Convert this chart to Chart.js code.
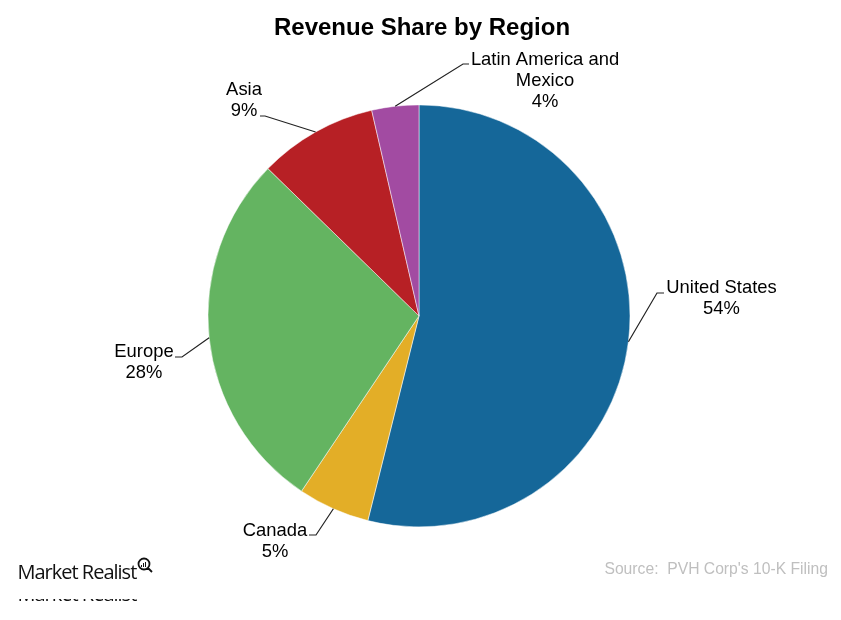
<!DOCTYPE html>
<html>
<head>
<meta charset="utf-8">
<title>Revenue Share by Region</title>
<script src="https://cdn.jsdelivr.net/npm/chart.js@4/dist/chart.umd.min.js"></script>
<style>
    html, body { margin: 0; padding: 0; background: #fff; }
    canvas { display: block; }
</style>
</head>
<body>
<canvas id="revenue-share-chart" width="841" height="620"></canvas>
<script>
    // values, clockwise from 12 o'clock
    var regions = ['United States', 'Canada', 'Europe', 'Asia', 'Latin America and\nMexico'];
    var shares = [53.9, 5.5, 27.9, 9.1, 3.6];
    var shareLabels = ['54%', '5%', '28%', '9%', '4%'];
    var sliceColors = ['#156799', '#E3AE27', '#64B461', '#B72025', '#A24BA2'];

    var labelFont = '18.4px "Liberation Sans", Arial, sans-serif';

    // where the callouts sit: text centre, first line y, leader elbow, leader end
    var callouts = [
        { x: 721.5, y: 288, elbowX: 657, elbowY: 293, endX: 664 },
        { x: 275, y: 531, elbowX: 316, elbowY: 535, endX: 309 },
        { x: 144, y: 352, elbowX: 182, elbowY: 357, endX: 175 },
        { x: 244, y: 90, elbowX: 265, elbowY: 116, endX: 260 },
        { x: 545, y: 60, elbowX: 463, elbowY: 64, endX: 469 }
    ];

    var calloutPlugin = {
        id: 'callouts',
        afterLayout: function (chart) {
            // title sits a little right of the pie
            chart.titleBlock.left += 3;
            chart.titleBlock.right += 3;
        },
        afterDatasetsDraw: function (chart) {
            var ctx = chart.ctx;
            var arcs = chart.getDatasetMeta(0).data;
            ctx.save();
            arcs.forEach(function (arc, i) {
                var p = arc.getProps(['x', 'y', 'startAngle', 'endAngle', 'outerRadius']);
                var mid = (p.startAngle + p.endAngle) / 2;
                var c = callouts[i];

                ctx.strokeStyle = '#222222';
                ctx.lineWidth = 1.2;
                ctx.beginPath();
                ctx.moveTo(p.x + Math.cos(mid) * p.outerRadius, p.y + Math.sin(mid) * p.outerRadius);
                ctx.lineTo(c.elbowX, c.elbowY);
                ctx.lineTo(c.endX, c.elbowY);
                ctx.stroke();

                ctx.fillStyle = '#000000';
                ctx.font = labelFont;
                ctx.textAlign = 'center';
                ctx.textBaseline = 'middle';
                var lines = regions[i].split('\n').concat(shareLabels[i]);
                lines.forEach(function (line, n) {
                    ctx.fillText(line, c.x, c.y + n * 21);
                });
            });
            ctx.restore();
        },
        afterDraw: function (chart) {
            var ctx = chart.ctx;
            ctx.save();

            // source note
            ctx.fillStyle = '#BFBFBF';
            ctx.font = '15.7px "Liberation Sans", Arial, sans-serif';
            ctx.textAlign = 'right';
            ctx.textBaseline = 'middle';
            ctx.fillText("Source:  PVH Corp's 10-K Filing", 828, 570);

            // logo
            ctx.fillStyle = '#111111';
            ctx.font = '20px "Open Sans", sans-serif';
            ctx.textAlign = 'left';
            ctx.textBaseline = 'alphabetic';
            ctx.letterSpacing = '-1px';
            ctx.fillText('Market Realist', 17.5, 579);
            ctx.strokeStyle = '#111111';
            ctx.lineWidth = 1.8;
            ctx.beginPath();
            ctx.arc(144, 564, 5.5, 0, Math.PI * 2);
            ctx.moveTo(148, 568);
            ctx.lineTo(152, 572);
            ctx.stroke();
            ctx.fillRect(141, 565, 1, 2);
            ctx.fillRect(143, 563, 1, 4);
            ctx.fillRect(145, 562, 1, 5);

            // cut-off copy of the logo at the bottom of the image
            ctx.beginPath();
            ctx.rect(0, 599, 300, 2);
            ctx.clip();
            ctx.fillText('Market Realist', 17.5, 600.5);

            ctx.restore();
        }
    };

    new Chart(document.getElementById('revenue-share-chart').getContext('2d'), {
        type: 'pie',
        data: {
            labels: regions,
            datasets: [{
                data: shares,
                backgroundColor: sliceColors,
                borderColor: '#ffffff',
                borderWidth: 0.5,
                radius: 211
            }]
        },
        options: {
            responsive: false,
            animation: false,
            layout: {
                padding: { left: 0, right: 3, top: 0, bottom: 93 }
            },
            plugins: {
                legend: { display: false },
                tooltip: { enabled: false },
                title: {
                    display: true,
                    text: 'Revenue Share by Region',
                    color: '#000000',
                    font: { family: '"Liberation Sans", Arial, sans-serif', size: 24, weight: 'bold' },
                    padding: { top: 14, bottom: 62 }
                }
            }
        },
        plugins: [calloutPlugin]
    });
</script>
</body>
</html>
